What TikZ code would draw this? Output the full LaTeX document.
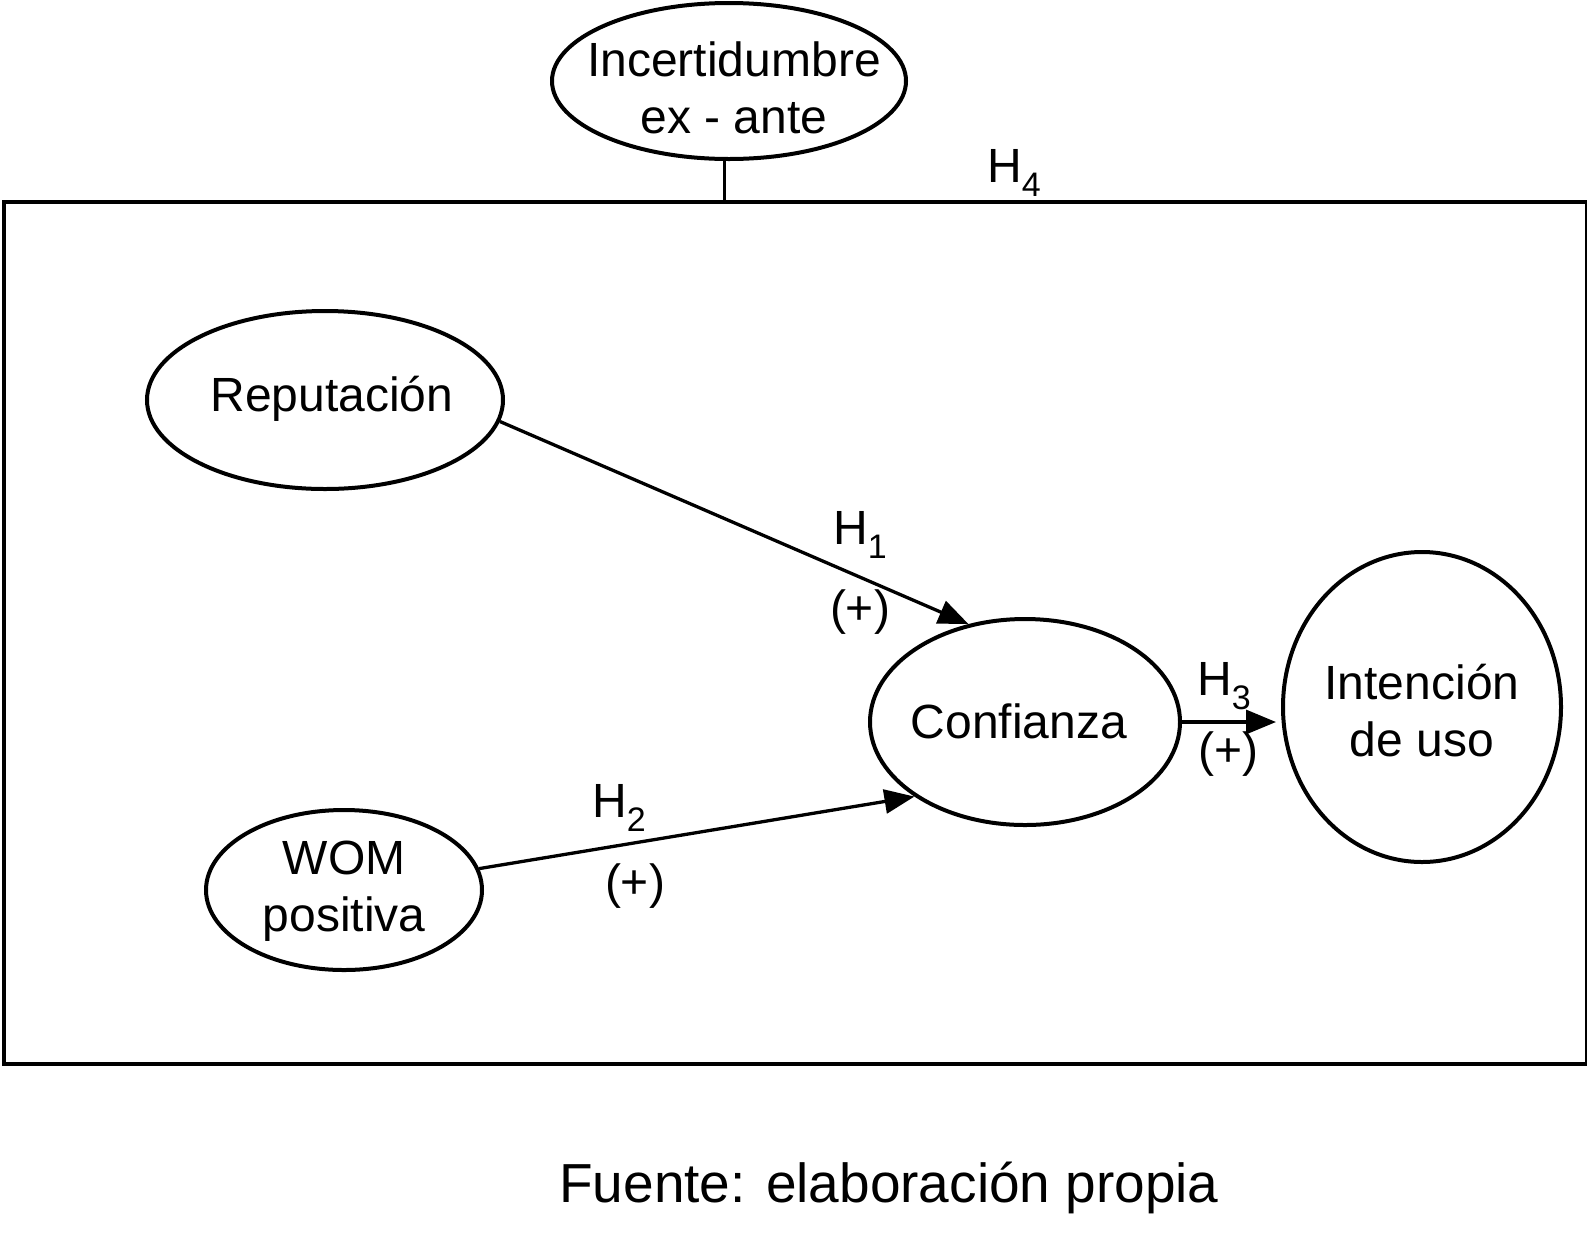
\documentclass[tikz,border=0pt]{standalone}
\usepackage{fontspec}
\setmainfont{Liberation Sans}
\usetikzlibrary{shapes.geometric,arrows.meta}
\newcommand{\hyp}[1]{H\raisebox{-0.28em}{\fontsize{34}{34}\selectfont #1}}
\begin{document}
\begin{tikzpicture}[x=1pt,y=-1pt,
  construct/.style={ellipse,draw,line width=4pt,inner sep=0pt},
  lbl/.style={inner sep=0pt,align=center,font=\fontsize{48}{57}\selectfont},
  conn/.style={line width=3.3pt,-{Triangle[length=30pt,width=24pt]}}]
\useasboundingbox (0,0) rectangle (1587,1235);
\node[construct,minimum width=354pt,minimum height=156pt] (inc) at (729,81) {};
\node[lbl] (incT) at (734,88) {Incertidumbre\\ex - ante};
\node[draw,line width=3.5pt,minimum width=1583pt,minimum height=862pt,inner sep=0pt,anchor=north west] (box) at (2,200) {};
\draw[line width=3pt] ([xshift=-5pt]inc.south) -- ([xshift=-5pt]inc.south |- box.north);
\node[lbl] (h4) at (1014,173) {\hyp{4}};
\node[construct,minimum width=356pt,minimum height=178pt] (rep) at (325,400) {};
\node[lbl] (repT) at (332,399) {Reputación};
\node[construct,minimum width=276pt,minimum height=160pt] (wom) at (344,890) {};
\node[lbl] (womT) at (344,891) {WOM\\positiva};
\node[construct,minimum width=310pt,minimum height=206pt] (conf) at (1025,722) {};
\node[lbl] (confT) at (1019,721) {Confianza};
\node[construct,minimum width=278pt,minimum height=310pt] (int) at (1422,707) {};
\node[lbl] (intT) at (1422,711) {Intención\\de uso};
\draw[conn] (rep.-7) -- (conf.120);
\draw[conn] (wom.9) -- (conf.214);
\draw[conn] (conf.east) -- ([xshift=-5pt]conf.east -| int.west);
\node[lbl] (h1) at (860,535) {\hyp{1}};
\node[lbl] (p1) at (860,612) {(+)};
\node[lbl] (h2) at (619,808) {\hyp{2}};
\node[lbl] (p2) at (635,886) {(+)};
\node[lbl] (h3) at (1224,686) {\hyp{3}};
\node[lbl] (p3) at (1228,754) {(+)};
\node[inner sep=0pt,font=\fontsize{55}{66}\selectfont] (src) at (889,1188) {Fuente: elaboración propia};
\end{tikzpicture}
\end{document}
